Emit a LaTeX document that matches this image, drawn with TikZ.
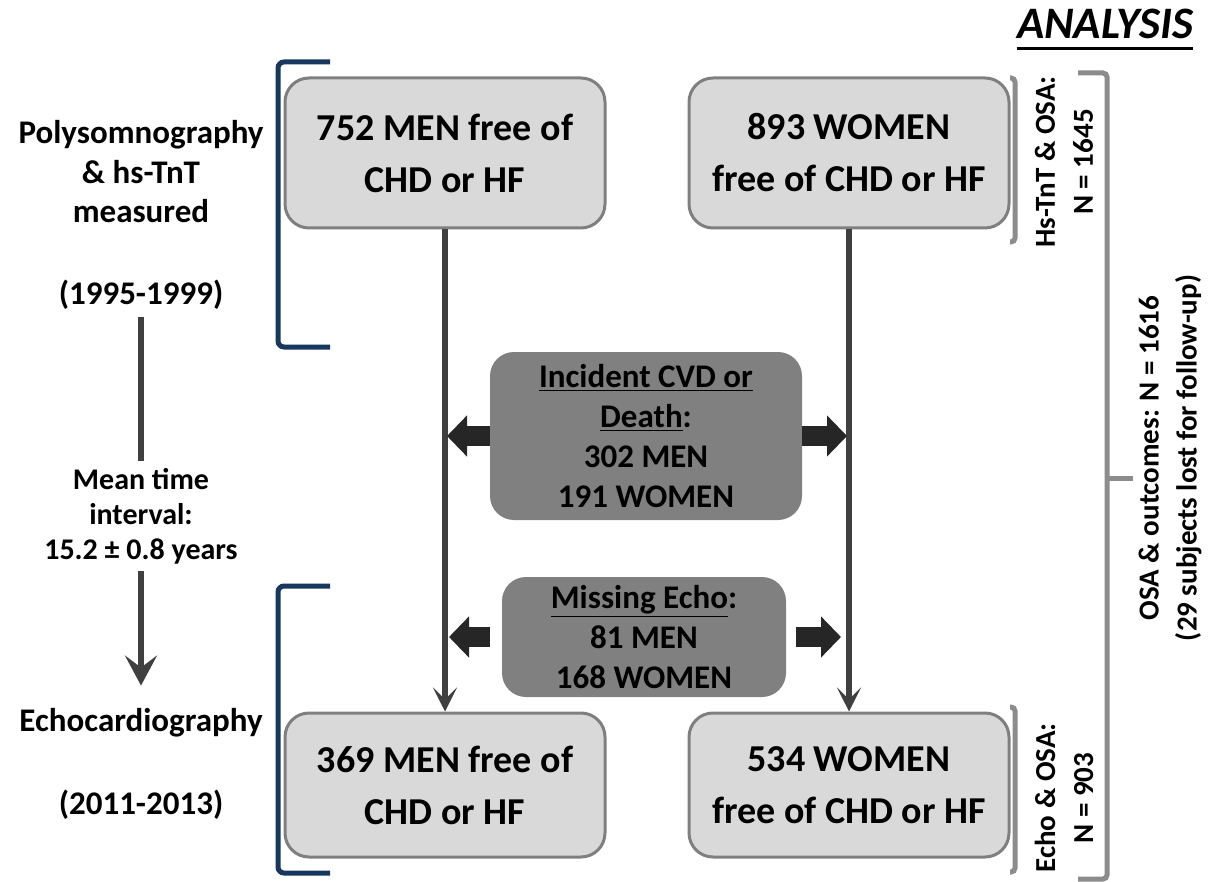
\documentclass[tikz,border=0pt]{standalone}
\usepackage{fontspec}
\setmainfont{Carlito}
\usetikzlibrary{arrows.meta}
\definecolor{boxfill}{HTML}{D9D9D9}
\definecolor{boxedge}{HTML}{7F7F7F}
\definecolor{midfill}{HTML}{808080}
\definecolor{flowline}{HTML}{404040}
\definecolor{blockarr}{HTML}{262626}
\definecolor{navybr}{HTML}{17375E}
\definecolor{graybr}{HTML}{8C8C8C}

\begin{document}
\begin{tikzpicture}[x=0.5pt,y=-0.5pt,font=\bfseries,
cohort/.style={draw=boxedge,fill=boxfill,line width=1.5pt,rounded corners=12pt,minimum width=160pt,minimum height=75pt,align=center,font=\fontsize{19}{26}\selectfont\bfseries},
loss/.style={fill=midfill,rounded corners=12pt,align=center,font=\fontsize{16.5}{20}\selectfont\bfseries},
phase/.style={align=center,font=\fontsize{16.5}{19.75}\selectfont\bfseries},
side/.style={rotate=90,align=center,font=\fontsize{14.5}{19}\selectfont\bfseries},
flow/.style={draw=flowline,line width=3pt,-{Stealth[length=12pt,width=12pt,inset=6pt]}},
tl/.style={draw=flowline,line width=3pt},
blk/.style={draw=blockarr,line width=10pt,-{Triangle[length=10pt,width=20pt]}},
navy/.style={draw=navybr,line width=2.5pt,rounded corners=3pt},
grayb/.style={draw=graybr,line width=2.5pt,rounded corners=2pt}]
\useasboundingbox (0,0) rectangle (1210,882);

% cohorts
\node[cohort] (m1) at (445,153) {752 MEN free of\\CHD or HF};
\node[cohort] (w1) at (849,153) {893 WOMEN\\free of CHD or HF};
\node[cohort,minimum height=72pt] (m2) at (445,785) {369 MEN free of\\CHD or HF};
\node[cohort,minimum height=72pt] (w2) at (849,785) {534 WOMEN\\free of CHD or HF};
\draw[flow] (m1.south) -- (m2.north);
\draw[flow] (w1.south) -- (w2.north);

% losses
\node[loss,minimum width=156pt,minimum height=84pt] (inc) at (646,436) {\underline{Incident CVD or}\\\underline{Death}:\\302 MEN\\191 WOMEN};
\node[loss,minimum width=142pt,minimum height=60pt] (miss) at (644,637) {\underline{Missing Echo}:\\81 MEN\\168 WOMEN};
\draw[blk,shorten >=1pt] (inc.west) -- (inc.west -| m1.south);
\draw[blk,shorten >=1pt] (inc.east) -- (inc.east -| w1.south);
\draw[blk,shorten <=6pt,shorten >=2pt] (miss.west) -- (miss.west -| m1.south);
\draw[blk,shorten <=5pt,shorten >=4pt] (miss.east) -- (miss.east -| w1.south);

% time line
\node[phase] (poly) at (141,172) {Polysomnography\\\& hs-TnT\\measured};
\node[phase] (yr1) at (141,295) {(1995-1999)};
\node[phase,font=\fontsize{15}{17.5}\selectfont\bfseries] (gap) at (141,516) {Mean time\\interval:\\15.2 ± 0.8 years};
\node[phase] (echo) at (141,723) {Echocardiography};
\node[phase] (yr2) at (141,805) {(2011-2013)};
\draw[tl] (yr1.south) -- (gap.north);
\draw[tl,-{Stealth[length=15pt,width=16pt,inset=6pt]},shorten >=8pt] (gap.south) -- (echo.north);

% brackets
\draw[navy] (330,62) -- (278,62) -- (278,347) -- (330,347);
\draw[navy] (330,586) -- (278,586) -- (278,873) -- (330,873);
\draw[grayb] (1010,78) -- (1015,78) -- (1015,242) -- (1010,242);
\draw[grayb] (1010,707) -- (1015,707) -- (1015,872) -- (1010,872);
\draw[grayb] (1078,73) -- (1107,73) -- (1107,879) -- (1078,879);
\draw[grayb] (1107,478) -- (1133,478);

% analysis
\node[font=\fontsize{22.5}{26}\selectfont\bfseries\itshape,inner sep=0pt] (ana) at (1105,24) {ANALYSIS};
\draw[line width=1.8pt] ([yshift=-5pt]ana.base west) -- ([yshift=-5pt]ana.base east);
\node[side] (hs) at (1064,162) {Hs-TnT \& OSA:\\N = 1645};
\node[side] (ec) at (1064,798) {Echo \& OSA:\\N = 903};
\node[side] (osa) at (1170,458) {OSA \& outcomes: N = 1616\\(29 subjects lost for follow-up)};
\end{tikzpicture}
\end{document}
